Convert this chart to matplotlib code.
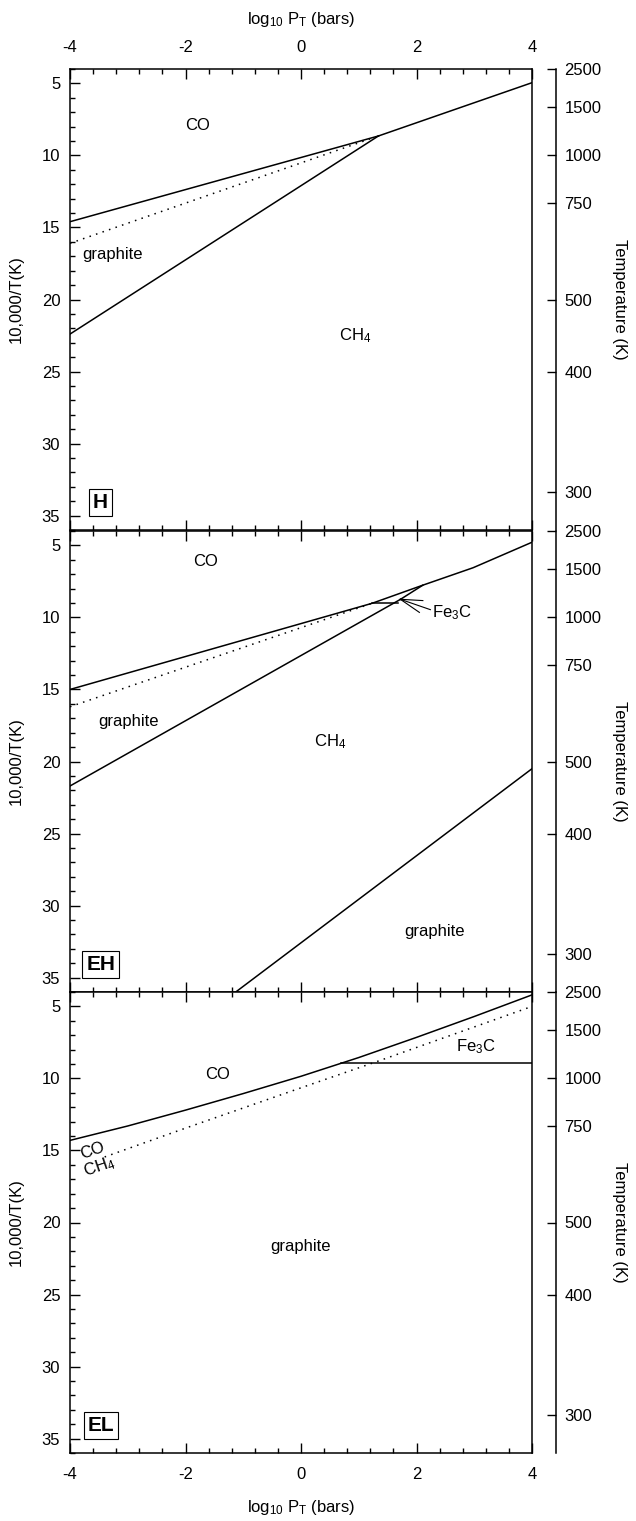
import numpy as np
import matplotlib
matplotlib.use('Agg')
import matplotlib.pyplot as plt
from matplotlib.ticker import MultipleLocator

plt.rcParams['font.family'] = ['Liberation Sans', 'DejaVu Sans']
plt.rcParams['mathtext.fontset'] = 'custom'
plt.rcParams['mathtext.rm'] = 'Liberation Sans'
plt.rcParams['mathtext.it'] = 'Liberation Sans:italic'
plt.rcParams['axes.unicode_minus'] = False
plt.rcParams['font.size'] = 12

# ---- data (x = log10 P_T, y = 10,000/T) ----
# H panel
h_co_graphite_x = [-4, 1.34]
h_co_graphite_y = [14.6, 8.65]
h_co_ch4_x = [1.34, 4]
h_co_ch4_y = [8.65, 4.95]
h_graphite_ch4_x = [-4, 1.34]
h_graphite_ch4_y = [22.4, 8.65]
h_dotted_x = [-4, 1.34]
h_dotted_y = [16.1, 8.65]

# EH panel
eh_upper_x = [-4, 1.23, 2.11, 2.98, 4]
eh_upper_y = [15.0, 9.02, 7.76, 6.55, 4.78]
eh_graphite_ch4_x = [-4, 1.72]
eh_graphite_ch4_y = [21.7, 8.75]
eh_fe3c_x = [1.72, 2.11]
eh_fe3c_y = [8.75, 7.76]
eh_flat_x = [1.23, 1.68]
eh_flat_y = [9.02, 9.02]
eh_dotted_x = [-4, 1.23]
eh_dotted_y = [16.2, 9.02]
eh_low_graphite_x = [-1.13, 4]
eh_low_graphite_y = [36, 20.5]

# EL panel
el_co_x = [-4, -3, -2, -1, 0, 1, 2, 3, 4]
el_co_y = [14.3, 13.3, 12.2, 11.05, 9.85, 8.55, 7.15, 5.7, 4.2]
el_dotted_x = [-3.4, -2, 0, 1.37, 4]
el_dotted_y = [15.45, 13.45, 10.65, 8.75, 5.0]
el_fe3c_x = [0.69, 4]
el_fe3c_y = [8.93, 8.93]

temp_ticks = [2500, 1500, 1000, 750, 500, 400, 300]
panel_names = ['H', 'EH', 'EL']

fig = plt.figure(figsize=(6.36, 15.21), dpi=100)
left, width = 70 / 636, 462 / 636
h = 461 / 1521
bottoms = [(1521 - 530) / 1521, (1521 - 992) / 1521, (1521 - 1453) / 1521]
axes = [fig.add_axes([left, b, width, h]) for b in bottoms]

dots = (0, (1, 3.5))

for i, ax in enumerate(axes):
    ax.set_xlim(-4, 4)
    ax.set_ylim(36, 4)
    ax.xaxis.set_major_locator(MultipleLocator(2))
    ax.xaxis.set_minor_locator(MultipleLocator(0.4))
    ax.yaxis.set_major_locator(MultipleLocator(5))
    ax.yaxis.set_minor_locator(MultipleLocator(1))
    ax.tick_params(which='both', direction='in', top=True, right=True, width=1, labelsize=12)
    ax.tick_params(which='major', length=7.2)
    ax.tick_params(which='minor', length=3.6)
    ax.tick_params(axis='x', labeltop=(i == 0), labelbottom=(i == 2), pad=10)
    ax.tick_params(axis='y', pad=7)
    for s in ax.spines.values():
        s.set_linewidth(1.1)
    ax.set_ylabel('10,000/T(K)', fontsize=12)
    ax.yaxis.set_label_coords(-0.1, 0.5)

    # temperature axis on the right
    tw = ax.twinx()
    tw.set_ylim(36, 4)
    tw.set_yticks([10000 / t for t in temp_ticks])
    tw.set_yticklabels([str(t) for t in temp_ticks])
    tw.yaxis.set_minor_locator(plt.NullLocator())
    tw.spines['right'].set_position(('outward', 17.3))
    tw.spines['right'].set_linewidth(1.1)
    for s in ['top', 'left', 'bottom']:
        tw.spines[s].set_visible(False)
    tw.tick_params(axis='y', direction='in', length=6.7, width=1, labelsize=12, pad=6)
    tw.set_ylabel('Temperature (K)', rotation=-90, fontsize=12)
    tw.yaxis.set_label_coords(1.205, 0.5)

    ax.text(-3.47, 34.1, panel_names[i], ha='center', va='center', fontsize=15,
            fontweight='bold',
            bbox=dict(boxstyle='square,pad=0.18', fc='white', ec='black', lw=0.8))

lw = 1.1
# H
ax = axes[0]
ax.plot(h_co_graphite_x, h_co_graphite_y, 'k-', lw=lw)
ax.plot(h_co_ch4_x, h_co_ch4_y, 'k-', lw=lw)
ax.plot(h_graphite_ch4_x, h_graphite_ch4_y, 'k-', lw=lw)
ax.plot(h_dotted_x, h_dotted_y, color='k', ls=dots, lw=1.1)
ax.text(-1.79, 7.9, 'CO', ha='center', va='center')
ax.text(-3.26, 16.9, 'graphite', ha='center', va='center')
ax.text(0.94, 22.5, 'CH$_4$', ha='center', va='center')

# EH
ax = axes[1]
ax.plot(eh_upper_x, eh_upper_y, 'k-', lw=lw)
ax.plot(eh_graphite_ch4_x, eh_graphite_ch4_y, 'k-', lw=lw)
ax.plot(eh_fe3c_x, eh_fe3c_y, 'k-', lw=lw)
ax.plot(eh_flat_x, eh_flat_y, 'k-', lw=lw)
ax.plot(eh_dotted_x, eh_dotted_y, color='k', ls=dots, lw=1.1)
ax.plot(eh_low_graphite_x, eh_low_graphite_y, 'k-', lw=lw)
# leader lines to the little Fe3C field
for ex, ey in [(2.11, 8.83), (2.24, 9.46), (2.05, 9.65)]:
    ax.plot([1.72, ex], [8.74, ey], 'k-', lw=0.8)
ax.text(2.27, 9.7, 'Fe$_3$C', ha='left', va='center')
ax.text(-1.65, 6.1, 'CO', ha='center', va='center')
ax.text(-2.98, 17.25, 'graphite', ha='center', va='center')
ax.text(0.51, 18.65, 'CH$_4$', ha='center', va='center')
ax.text(2.32, 31.8, 'graphite', ha='center', va='center')

# EL
ax = axes[2]
ax.plot(el_co_x, el_co_y, 'k-', lw=lw)
ax.plot(el_dotted_x, el_dotted_y, color='k', ls=dots, lw=1.1)
ax.plot(el_fe3c_x, el_fe3c_y, 'k-', lw=lw)
ax.text(-3.62, 15.05, 'CO', ha='center', va='center', rotation=19)
ax.text(-3.5, 16.15, 'CH$_4$', ha='center', va='center', rotation=19)
ax.text(-1.44, 9.7, 'CO', ha='center', va='center')
ax.text(3.03, 7.8, 'Fe$_3$C', ha='center', va='center')
ax.text(-0.01, 21.7, 'graphite', ha='center', va='center')

xlab = 'log$_{10}$ P$_\\mathrm{T}$ (bars)'
axes[0].set_xlabel(xlab, fontsize=12)
axes[0].xaxis.set_label_position('top')
axes[0].xaxis.set_label_coords(0.5, 1.097)
axes[2].set_xlabel(xlab, fontsize=12)
axes[2].xaxis.set_label_coords(0.5, -0.097)

fig.savefig('out.png', dpi=100)
